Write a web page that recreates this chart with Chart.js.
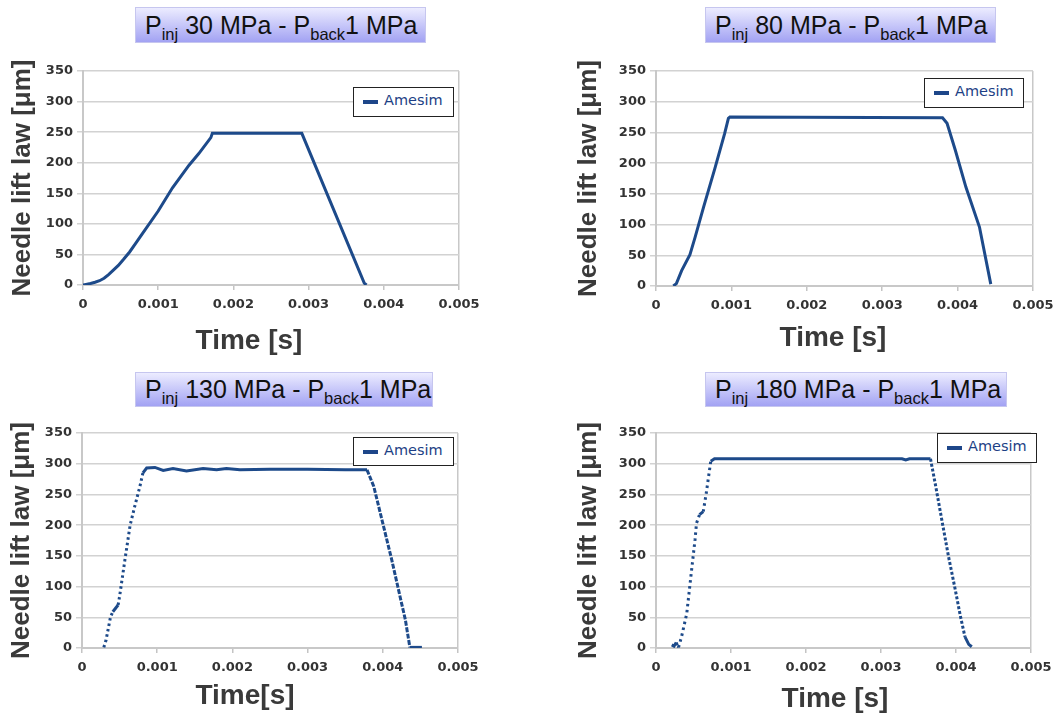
<!DOCTYPE html>
<html><head><meta charset="utf-8">
<script src="https://cdn.jsdelivr.net/npm/chart.js@4.4.0/dist/chart.umd.min.js"></script>
<style>
body{margin:0;width:1056px;height:713px;background:#fff;position:relative;overflow:hidden}
canvas{position:absolute}
.ttl{position:absolute;box-sizing:border-box;border:1px solid #c6c6ef;background:linear-gradient(#ececff,#a2a2f3);font-family:'Liberation Sans',Arial,sans-serif;font-size:25px;color:#111;white-space:nowrap;padding-left:9px}
.ttl sub{font-size:16.5px;vertical-align:-6px;line-height:0}
.xt{position:absolute;font:bold 28px 'Liberation Sans',Arial,sans-serif;color:#3a3a3a;transform:translate(-50%,-50%);white-space:nowrap}
.leg{position:absolute;border:1.5px solid #222;background:#fff;box-sizing:border-box;font:14.5px 'DejaVu Sans',sans-serif;color:#1d3f85}
.leg i{position:absolute;left:9px;top:12px;width:15px;height:4px;background:#1d4689}
.leg span{position:absolute;left:30px;top:4px}
</style></head>
<body>
<canvas id="c1" width="480" height="310" style="left:0;top:50px"></canvas>
<canvas id="c2" width="496" height="310" style="left:560px;top:50px"></canvas>
<canvas id="c3" width="480" height="303" style="left:0;top:410px"></canvas>
<canvas id="c4" width="496" height="303" style="left:560px;top:410px"></canvas>

<div class="ttl" style="left:135px;top:7px;width:291px;height:36px;line-height:34px">P<sub>inj</sub> 30 MPa - P<sub>back</sub>1 MPa</div>
<div class="ttl" style="left:705px;top:7px;width:291px;height:36px;line-height:34px">P<sub>inj</sub> 80 MPa - P<sub>back</sub>1 MPa</div>
<div class="ttl" style="left:135px;top:372px;width:298px;height:35px;line-height:33px">P<sub>inj</sub> 130 MPa - P<sub>back</sub>1 MPa</div>
<div class="ttl" style="left:705px;top:372px;width:302px;height:35px;line-height:33px">P<sub>inj</sub> 180 MPa - P<sub>back</sub>1 MPa</div>

<div class="xt" style="left:249px;top:340px">Time [s]</div>
<div class="xt" style="left:833px;top:337px">Time [s]</div>
<div class="xt" style="left:245px;top:695px">Time[s]</div>
<div class="xt" style="left:835px;top:698px">Time [s]</div>

<div class="leg" style="left:353px;top:87px;width:101px;height:30px"><i></i><span>Amesim</span></div>
<div class="leg" style="left:924px;top:78px;width:100px;height:30px"><i></i><span>Amesim</span></div>
<div class="leg" style="left:353px;top:437px;width:101px;height:29px"><i></i><span>Amesim</span></div>
<div class="leg" style="left:937px;top:433px;width:100px;height:30px"><i></i><span>Amesim</span></div>

<script>
// ---- data (time in s, needle lift in µm) ----
const p1T = [0, 0.00004, 0.0001, 0.00016, 0.00022, 0.00028, 0.00034, 0.0004, 0.00047, 0.00054, 0.00062, 0.0007, 0.00079, 0.001, 0.00119, 0.00141, 0.00154, 0.00170, 0.00172, 0.00291, 0.00374, 0.00377];
const p1Y = [0, 1, 2.5, 4.5, 7, 11, 17, 24, 32, 42, 54, 68, 84, 121, 159, 196, 215, 241, 248, 248, 3, 0];

const p2T = [0.00023, 0.00027, 0.00034, 0.00045, 0.00052, 0.00063, 0.00078, 0.00091, 0.00096, 0.00098, 0.00380, 0.00386, 0.00397, 0.00411, 0.00429, 0.00444];
const p2Y = [0, 4, 25, 51, 80, 128, 191, 248, 273, 275, 274, 265, 221, 161, 96, 3];

const p3T = [0.00029, 0.00032, 0.00038, 0.00041, 0.00048, 0.00050, 0.00057, 0.00064, 0.00070, 0.00077, 0.00081, 0.00086, 0.00097, 0.00108, 0.00121, 0.00139, 0.00161, 0.00179, 0.00192, 0.00210, 0.00250, 0.00300, 0.00350, 0.00379, 0.00388, 0.00401, 0.00412, 0.00424, 0.00430, 0.00436, 0.00452];
const p3Y = [1, 13, 51, 59, 70, 84, 143, 200, 230, 263, 285, 293, 294, 289, 292, 288, 292, 290, 292, 290, 291, 291, 290, 290, 263, 198, 143, 78, 46, 1, 1];

const p4T = [0.00021, 0.00024, 0.00027, 0.00029, 0.00030, 0.00034, 0.00041, 0.00047, 0.00052, 0.00054, 0.00058, 0.00063, 0.00067, 0.00073, 0.00078, 0.00328, 0.00333, 0.00338, 0.00366, 0.00373, 0.00381, 0.00390, 0.00399, 0.00406, 0.00412, 0.00417, 0.00421];
const p4Y = [5, 3, 9, 2, 1, 18, 56, 122, 176, 203, 217, 222, 252, 304, 308, 308, 306, 308, 308, 263, 209, 149, 95, 51, 18, 6, 2];

const xTickLabels = ['0', '0.001', '0.002', '0.003', '0.004', '0.005'];
const yTitle = 'Needle lift law [μm]';
const seriesName = 'Amesim';

const LINE = '#1d4a8a';
const panels = [
  {id:'c1', t:p1T, y:p1Y, yw:83, top:21, right:21, xh:75, ytp:7,  rise:null, fall:null},
  {id:'c2', t:p2T, y:p2Y, yw:96, top:21, right:23, xh:74, ytp:13, rise:null, fall:null},
  {id:'c3', t:p3T, y:p3Y, yw:82, top:23, right:22, xh:65, ytp:6,  rise:[2.5,3], fall:[5,1.5]},
  {id:'c4', t:p4T, y:p4Y, yw:96, top:23, right:25, xh:65, ytp:13, rise:[2.5,3.5], fall:[3,2]}
];

function mk(p){
  new Chart(document.getElementById(p.id), {
    type:'line',
    data:{datasets:[{
      label: seriesName,
      data: p.t.map((t,i)=>({x:t, y:p.y[i]})),
      borderColor: LINE, borderWidth: 3, pointRadius: 0, tension: 0, fill:false,
      segment:{borderDash: ctx => {
        const dx = Math.abs(ctx.p1.x - ctx.p0.x), dy = ctx.p1.y - ctx.p0.y;
        if (Math.abs(dy) < 2*dx) return undefined;
        return (dy < 0 ? p.rise : p.fall) || undefined;
      }}
    }]},
    options:{
      responsive:false, animation:false, events:[],
      plugins:{legend:{display:false}, tooltip:{enabled:false}},
      layout:{padding:{top:p.top, right:p.right, left:0, bottom:0}},
      scales:{
        x:{type:'linear', min:0, max:0.005,
          afterFit: s => { s.height = p.xh; s.paddingLeft = 0; s.paddingRight = 0; },
          ticks:{stepSize:0.001, autoSkip:false, maxRotation:0, padding:7,
            callback:(v,i)=>xTickLabels[i],
            font:{family:'DejaVu Sans', weight:'bold', size:13}, color:'#333'},
          grid:{color: c => c.index === xTickLabels.length-1 ? '#c8c8c8' : 'transparent',
            tickColor:'#c4c4c4', tickLength:5, lineWidth:1.5},
          border:{color:'#c8c8c8', width:2}
        },
        y:{type:'linear', min:0, max:350,
          afterFit: s => { s.width = p.yw; s.paddingTop = 0; s.paddingBottom = 0; },
          ticks:{stepSize:50, padding:4, font:{family:'DejaVu Sans', weight:'bold', size:13}, color:'#333'},
          grid:{color:'#d2d2d2', lineWidth:1.5, tickLength:6},
          border:{color:'#c8c8c8', width:2},
          title:{display:true, text:yTitle, color:'#3a3a3a',
            font:{family:'Liberation Sans', weight:'bold', size:26},
            padding:{top:p.ytp, bottom:0}}
        }
      }
    }
  });
}
panels.forEach(mk);
</script>
</body></html>
